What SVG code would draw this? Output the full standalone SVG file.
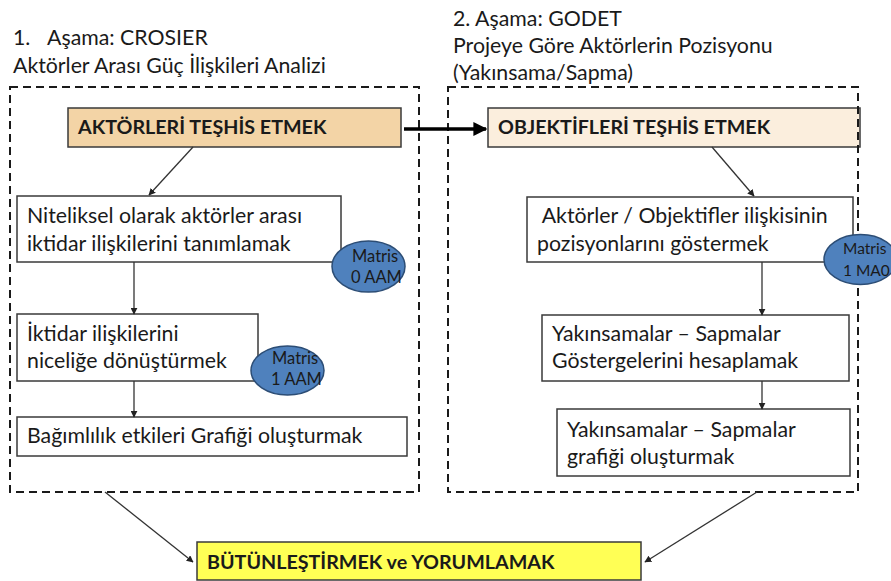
<svg xmlns="http://www.w3.org/2000/svg" width="891" height="581" viewBox="0 0 891 581">
<defs>
<style>
text{font-family:Lato,"Open Sans","Liberation Sans",sans-serif;fill:#1a1a1a;}
.t{font-size:21.3px;}
.h{font-size:21.3px;}
.b{font-size:19.7px;font-weight:bold;}
.m{font-size:16.5px;fill:#1a1a1a;}
.m2{font-size:15.5px;fill:#1a1a1a;}
.box{fill:#ffffff;stroke:#3a3a3a;stroke-width:1.5;}
.dash{fill:none;stroke:#1a1a1a;stroke-width:2;stroke-dasharray:8 5;}
.ell{fill:#4f81bd;stroke:#2c4d75;stroke-width:1.5;}
.ln{stroke:#333333;stroke-width:1.3;fill:none;marker-end:url(#ah);}
</style>
<marker id="ah" viewBox="0 0 10 10" refX="9" refY="5" markerWidth="7" markerHeight="7" markerUnits="userSpaceOnUse" orient="auto">
<path d="M0,0 L10,5 L0,10 z" fill="#222"/>
</marker>
<marker id="ahb" viewBox="0 0 10 10" refX="9" refY="5" markerWidth="4" markerHeight="4" orient="auto">
<path d="M0,0 L10,5 L0,10 z" fill="#000"/>
</marker>
</defs>
<rect width="891" height="581" fill="#ffffff"/>

<g id="titles">
<text class="h" x="13" y="45">1.<tspan x="47">Aşama: CROSIER</tspan></text>
<text class="h" x="13" y="73">Aktörler Arası Güç İlişkileri Analizi</text>
<text class="h" x="453" y="26">2. Aşama: GODET</text>
<text class="h" x="453" y="53">Projeye Göre Aktörlerin Pozisyonu</text>
<text class="h" x="453" y="80">(Yakınsama/Sapma)</text>
</g>

<g id="n_aktorleri">
<rect x="68" y="108" width="333" height="39" fill="#f3d4a6" stroke="#3a3a3a" stroke-width="1.5"/>
<text class="b" x="78" y="134">AKTÖRLERİ TEŞHİS ETMEK</text>
</g>
<g id="n_objektifleri">
<rect x="488" y="108" width="372" height="39" fill="#fbeedd" stroke="#3a3a3a" stroke-width="1.5"/>
<text class="b" x="498" y="134">OBJEKTİFLERİ TEŞHİS ETMEK</text>
</g>
<g id="n_niteliksel">
<rect class="box" x="17" y="196" width="324" height="66"/>
<text class="t" x="27" y="223">Niteliksel olarak aktörler arası</text>
<text class="t" x="27" y="251">iktidar ilişkilerini tanımlamak</text>
</g>
<g id="n_iktidar">
<rect class="box" x="17" y="314" width="241" height="67"/>
<text class="t" x="27" y="341">İktidar ilişkilerini</text>
<text class="t" x="27" y="368">niceliğe dönüştürmek</text>
</g>
<g id="n_bagimlilik">
<rect class="box" x="17" y="417" width="390" height="39"/>
<text class="t" x="27" y="443">Bağımlılık etkileri Grafiği oluşturmak</text>
</g>
<g id="n_aktorler_obj">
<rect class="box" x="527" y="197" width="326" height="65"/>
<text class="t" x="537" y="223" xml:space="preserve"> Aktörler / Objektifler ilişkisinin</text>
<text class="t" x="537" y="251">pozisyonlarını göstermek</text>
</g>
<g id="n_gostergeler">
<rect class="box" x="542" y="315" width="307" height="66"/>
<text class="t" x="552" y="341">Yakınsamalar – Sapmalar</text>
<text class="t" x="552" y="368">Göstergelerini hesaplamak</text>
</g>
<g id="n_grafik">
<rect class="box" x="557" y="409" width="293" height="67"/>
<text class="t" x="567" y="437">Yakınsamalar – Sapmalar</text>
<text class="t" x="567" y="464">grafiği oluşturmak</text>
</g>
<g id="n_butunlestirmek">
<rect x="197" y="542" width="444" height="38" fill="#ffff55" stroke="#3a3a3a" stroke-width="1.5"/>
<text class="b" x="207" y="569">BÜTÜNLEŞTİRMEK ve YORUMLAMAK</text>
</g>

<g id="g_crosier">
<rect class="dash" x="10" y="87" width="409" height="405"/>
</g>
<g id="g_godet">
<rect class="dash" x="448" y="87" width="410" height="405"/>
</g>

<g id="connectors">
<line x1="404" y1="129" x2="486" y2="129" stroke="#000" stroke-width="3.5" marker-end="url(#ahb)"/>
<line class="ln" x1="193" y1="147" x2="149" y2="195"/>
<line class="ln" x1="134" y1="262" x2="134" y2="314"/>
<line class="ln" x1="134" y1="381" x2="134" y2="417"/>
<line class="ln" x1="712" y1="147" x2="754" y2="196"/>
<line class="ln" x1="762" y1="262" x2="762" y2="315"/>
<line class="ln" x1="762" y1="381" x2="762" y2="409"/>
<line class="ln" x1="105" y1="492" x2="193" y2="562"/>
<line class="ln" x1="757" y1="492" x2="645" y2="562"/>
</g>

<g id="n_matris0">
<ellipse class="ell" cx="368.5" cy="266.5" rx="36.5" ry="25.5"/>
<text class="m" x="352" y="262">Matris</text>
<text class="m" x="351" y="283">0 AAM</text>
</g>
<g id="n_matris1">
<ellipse class="ell" cx="287.5" cy="370.5" rx="36.5" ry="24.5"/>
<text class="m" x="272" y="364">Matris</text>
<text class="m" x="271" y="385">1 AAM</text>
</g>
<g id="n_matris2">
<ellipse class="ell" cx="860.5" cy="259.5" rx="36.5" ry="25"/>
<text class="m2" x="843" y="254">Matris</text>
<text class="m2" x="843" y="276">1 MA0</text>
</g>
</svg>
